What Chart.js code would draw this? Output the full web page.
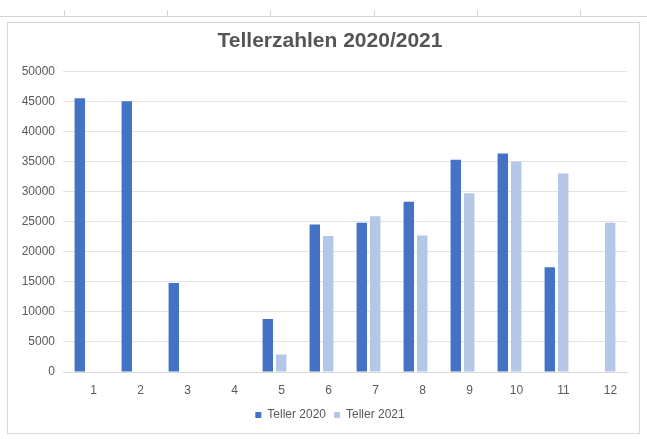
<!DOCTYPE html>
<html>
<head>
<meta charset="utf-8">
<script src="https://cdn.jsdelivr.net/npm/chart.js@4"></script>
<style>
  html, body { margin: 0; padding: 0; background: #fff; }
  #wrap { position: relative; width: 647px; height: 439px; }
</style>
</head>
<body>
<div id="wrap"><canvas id="teller-grafica"></canvas></div>
<script>
const monate = ['1', '2', '3', '4', '5', '6', '7', '8', '9', '10', '11', '12'];
const teller2020 = [45500, 45000, 14800, null, 8800, 24500, 24800, 28300, 35300, 36300, 17400, null];
const teller2021 = [null, null, null, null, 2900, 22600, 25900, 22700, 29700, 35000, 33000, 24800];
const yMax = 50000;
const yStep = 5000;

const schrift = 'Liberation Sans';

// Rahmen wie im Tabellenblatt: Kopfzeile oben und Diagrammrand
const rahmen = {
    id: 'rahmen',
    afterLayout(chart) {
        // y-Beschriftung darf links über die Achsbreite hinausragen
        chart.scales.y.left = 8;
    },
    beforeDraw(chart) {
        const ctx = chart.ctx;
        ctx.save();
        ctx.fillStyle = '#fff';
        ctx.fillRect(0, 0, chart.width, chart.height);
        ctx.strokeStyle = '#d4d4d4';
        ctx.lineWidth = 1;
        ctx.beginPath();
        ctx.moveTo(0, 16.5);
        ctx.lineTo(chart.width, 16.5);
        [64, 167, 270, 374, 477, 580].forEach(x => {
            ctx.moveTo(x + 0.5, 10);
            ctx.lineTo(x + 0.5, 17);
        });
        ctx.stroke();
        ctx.strokeStyle = '#d9d9d9';
        ctx.strokeRect(7.5, 22.5, 632, 411);
        ctx.restore();
    }
};

new Chart(document.getElementById('teller-grafica'), {
    type: 'bar',
    data: {
        labels: monate,
        datasets: [
            {
                label: 'Teller 2020',
                data: teller2020,
                backgroundColor: '#4472c4',
                categoryPercentage: 0.57,
                barPercentage: 0.78
            },
            {
                label: 'Teller 2021',
                data: teller2021,
                backgroundColor: '#b4c7e7',
                categoryPercentage: 0.57,
                barPercentage: 0.78
            }
        ]
    },
    options: {
        responsive: true,
        maintainAspectRatio: false,
        animation: false,
        layout: { padding: { top: 22, left: 33, right: 20, bottom: 8 } },
        plugins: {
            title: {
                display: true,
                text: 'Tellerzahlen 2020/2021',
                color: '#555555',
                font: { family: schrift, size: 21, weight: 'bold' },
                padding: { top: 7, bottom: 17 }
            },
            legend: {
                position: 'bottom',
                labels: {
                    color: '#595959',
                    font: { family: schrift, size: 12 },
                    usePointStyle: true,
                    pointStyle: 'rect',
                    boxWidth: 6,
                    boxHeight: 6,
                    padding: 8
                }
            },
            tooltip: { enabled: false }
        },
        scales: {
            x: {
                grid: { display: false },
                border: { color: '#d9d9d9' },
                afterFit(scale) { scale.height = 29; },
                ticks: {
                    color: '#595959',
                    font: { family: schrift, size: 12 },
                    labelOffset: 7,
                    padding: 3
                }
            },
            y: {
                min: 0,
                max: yMax,
                grid: { color: '#e3e3e3', drawTicks: false },
                border: { display: false },
                afterFit(scale) { scale.width = 30; },
                ticks: {
                    stepSize: yStep,
                    color: '#595959',
                    font: { family: schrift, size: 12 },
                    padding: 8,
                    callback: v => String(v)
                }
            }
        }
    },
    plugins: [rahmen]
});
</script>
</body>
</html>
